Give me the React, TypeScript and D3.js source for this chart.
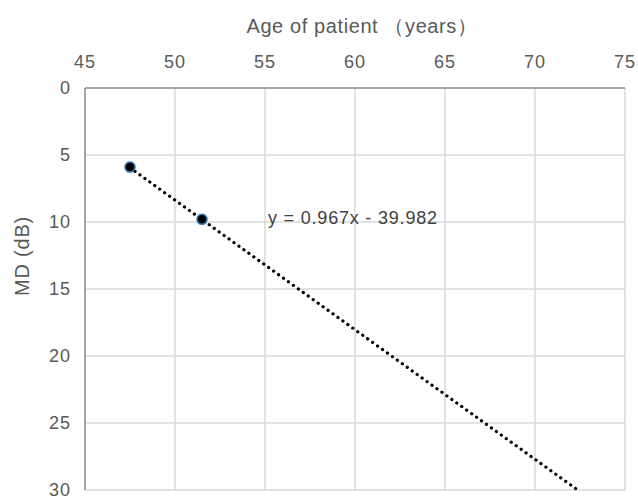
import React from "react";
import * as d3 from "d3";

const ages = [47.5, 51.5];
const mdValues = [5.9, 9.8];
const xTicks = [45, 50, 55, 60, 65, 70, 75];
const yTicks = [0, 5, 10, 15, 20, 25, 30];
const slope = 0.967;
const intercept = -39.982;
const equationLabel = "y = 0.967x - 39.982";
const xTitle = "Age of patient （years）";
const yTitle = "MD (dB)";

export default function App() {
  const W = 638, H = 500;
  const left = 85, right = 625, top = 88, bottom = 490;
  const x = d3.scaleLinear().domain([45, 75]).range([left, right]);
  const y = d3.scaleLinear().domain([0, 30]).range([top, bottom]);
  const font = "Arial, 'Liberation Sans', sans-serif";
  const x0 = ages[0];
  const x1 = (30 - intercept) / slope;
  const line = d3.line<number>().x((d) => x(d)).y((d) => y(slope * d + intercept));
  return (
    <svg width={W} height={H} style={{ position: "absolute", left: 0, top: 0, background: "#fff" }}>
      <defs>
        <clipPath id="plot">
          <rect x={left} y={top} width={right - left} height={bottom - top + 2} />
        </clipPath>
      </defs>
      {xTicks.slice(1).map((t) => (
        <line key={"gx" + t} x1={x(t)} x2={x(t)} y1={top} y2={bottom} stroke="#d9d9d9" strokeWidth={1.5} />
      ))}
      {yTicks.slice(1).map((t) => (
        <line key={"gy" + t} x1={left} x2={right} y1={y(t)} y2={y(t)} stroke="#d9d9d9" strokeWidth={1.5} />
      ))}
      <line x1={left} x2={right} y1={top} y2={top} stroke="#898989" strokeWidth={1.5} />
      <line x1={left} x2={left} y1={top} y2={bottom} stroke="#898989" strokeWidth={1.5} />
      {xTicks.map((t) => (
        <text key={"tx" + t} x={x(t)} y={top - 20} textAnchor="middle" fontFamily={font} fontSize={18} letterSpacing={1} fill="#595959">{t}</text>
      ))}
      {yTicks.map((t) => (
        <text key={"ty" + t} x={left - 14} y={y(t) + 6} textAnchor="end" fontFamily={font} fontSize={18} letterSpacing={1} fill="#595959">{t}</text>
      ))}
      <text x={362} y={33} textAnchor="middle" fontFamily={font} fontSize={20} letterSpacing={0.6} fill="#595959">{xTitle}</text>
      <text transform={`translate(29,256) rotate(-90)`} textAnchor="middle" fontFamily={font} fontSize={20} letterSpacing={0.8} fill="#595959">{yTitle}</text>
      <path d={line([x0, x1]) || ""} clipPath="url(#plot)" fill="none" stroke="#000" strokeWidth={3.2} strokeLinecap="round" strokeDasharray="0.1 6" />
      {ages.map((a, i) => (
        <circle key={"p" + i} cx={x(a)} cy={y(mdValues[i])} r={5} fill="#000" stroke="#2e75b6" strokeWidth={1.5} />
      ))}
      <text x={268} y={224} fontFamily={font} fontSize={18} letterSpacing={0.8} fill="#404040">{equationLabel}</text>
    </svg>
  );
}
